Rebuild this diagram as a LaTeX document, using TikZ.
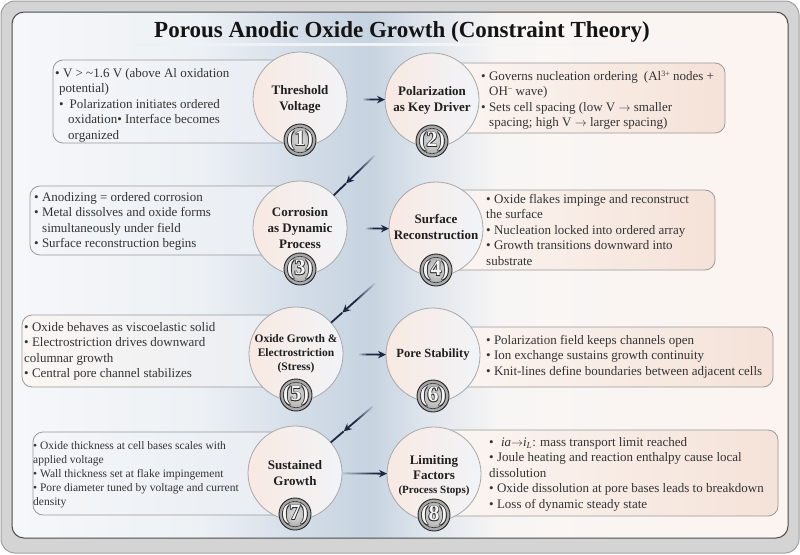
\documentclass[tikz,border=0pt]{standalone}
\usepackage{fontspec}
\setmainfont{Liberation Serif}
\usetikzlibrary{arrows.meta,calc}
\definecolor{navy}{HTML}{1C2743}
\definecolor{bandblue}{HTML}{C2CFDD}
\definecolor{txt}{HTML}{333333}
\definecolor{bgA}{HTML}{F6F7F9}
\definecolor{bgB}{HTML}{EDF1F5}
\definecolor{bgC}{HTML}{D3DDE8}
\definecolor{bgD}{HTML}{C6D3E0}
\definecolor{bgE}{HTML}{DDE4EC}
\definecolor{bgF}{HTML}{F8F6F5}
\definecolor{bgG}{HTML}{FCF4F0}
\definecolor{circL}{HTML}{F8E9E2}
\definecolor{circR}{HTML}{F1F4F8}
\definecolor{circbord}{HTML}{A8A8A8}
\definecolor{panbord}{HTML}{9A9A9A}
\definecolor{plA}{HTML}{F4F6F9}
\definecolor{plB}{HTML}{E8EDF3}
\definecolor{prA}{HTML}{FBF6F3}
\definecolor{prB}{HTML}{F5E2D8}
\definecolor{frameOut}{HTML}{D4D4D4}
\newcommand{\bnum}[1]{%
  \rlap{\kern0.7pt\raisebox{-0.7pt}{\color{gray!25!black}(#1)}}%
  \rlap{\kern-0.6pt\raisebox{0.6pt}{\color{gray!35!black}(#1)}}%
  \rlap{\kern0.7pt\raisebox{0.6pt}{\color{gray!35!black}(#1)}}%
  \rlap{\kern-0.6pt\raisebox{-0.7pt}{\color{gray!35!black}(#1)}}%
  {\color{white!92!gray}(#1)}}
\newcommand{\fadearrow}[4]{%
  \foreach \k in {0,...,9}{%
    \pgfmathsetmacro{\fadeA}{\k/10}%
    \pgfmathsetmacro{\fadeB}{(\k+1)/10}%
    \pgfmathtruncatemacro{\fadePc}{10+\k*9}%
    \draw[arrowbody, draw=navy!\fadePc!bandblue] ($(#1)!\fadeA!(#2)$) -- ($(#1)!\fadeB!(#2)$);
  }%
  \draw[headline] (#2) -- (#3);
  \draw[arrowbody, draw=navy] (#3) -- (#4);
}
\tikzset{
  bigcirc/.style={circle, minimum size=94pt, inner sep=0pt, draw=circbord, line width=0.8pt, left color=circL, right color=circR},
  clabel/.style={align=center, font=\fontsize{13}{16}\selectfont\bfseries, text=black!88, inner sep=0pt},
  panelL/.style={rounded corners=10pt, draw=panbord, line width=0.8pt, left color=plA, right color=plB},
  panelR/.style={rounded corners=10pt, draw=panbord, line width=0.8pt, left color=prA, right color=prB},
  ptext/.style={anchor=north west, align=left, inner sep=0pt, text=txt, font=\fontsize{13}{15.5}\selectfont},
  badge/.style={circle, minimum size=32pt, inner sep=0pt, draw=gray!30!black, line width=0.9pt, inner color=gray!25, outer color=gray!72},
  numtxt/.style={font=\fontsize{22}{22}\selectfont\bfseries, inner sep=0pt},
  arrowbody/.style={line width=1.8pt},
  headline/.style={draw=navy, line width=1.8pt, -{Stealth[length=8pt,width=7.5pt]}}
}
\begin{document}
\begin{tikzpicture}[x=1pt,y=-1pt]
\useasboundingbox (0,0) rectangle (800,554);
% frame
\draw[rounded corners=14pt, draw=gray!75, line width=1pt, fill=frameOut] (1,1) rectangle (799,553);
\begin{scope}
  \clip[rounded corners=12pt] (12,12) rectangle (788,538);
  \shade[left color=bgA, right color=bgB] (11,11) rectangle (201,539);
  \shade[left color=bgB, right color=bgC] (200,11) rectangle (301,539);
  \shade[left color=bgC, right color=bgD] (300,11) rectangle (371,539);
  \shade[left color=bgD, right color=bgE] (370,11) rectangle (421,539);
  \shade[left color=bgE, right color=bgF] (420,11) rectangle (501,539);
  \shade[left color=bgF, right color=bgG] (500,11) rectangle (789,539);
\end{scope}
\draw[rounded corners=12pt, draw=gray!60!black, line width=1pt] (12,12) rectangle (788,538);
% title
\node[anchor=base, font=\fontsize{23}{26}\selectfont\bfseries, text=black!92, inner sep=0pt] (title) at (402,37) {Porous Anodic Oxide Growth (Constraint Theory)};
\shade[left color=bgB, middle color=gray!55, right color=bgF] (135,43.5) rectangle (688,45.5);
% panels
\path[panelL] (53,60) rectangle (300,143);
\path[panelR] (432,63) rectangle (725,133);
\path[panelL] (30,186) rectangle (300,255);
\path[panelR] (436,190) rectangle (715,270);
\path[panelL, left color=prA] (22,315) rectangle (296,387);
\path[panelR] (433,327) rectangle (773,387);
\path[panelL] (33,432) rectangle (295,515);
\path[panelR] (434,430) rectangle (778,516);
% panel texts
\node[ptext] (x1) at (55,66.2) {\strut• V > \textasciitilde1.6 V (above Al oxidation\\
\hspace{4pt}potential)\\
\hspace{4pt}•\hspace{6pt}Polarization initiates ordered\\
\hspace{13pt}oxidation• Interface becomes\\
\hspace{13pt}organized};
\node[ptext] (x2) at (481,69.2) {\strut• Governs nucleation ordering\hspace{3pt} (Al{\fontsize{8}{8}\selectfont\raisebox{4pt}{3+}} nodes +\\
\hspace{8pt}OH{\fontsize{8}{8}\selectfont\raisebox{4pt}{−}} wave)\\
• Sets cell spacing (low V $\rightarrow$ smaller\\
\hspace{8pt}spacing; high V $\rightarrow$ larger spacing)};
\node[ptext] (x3) at (34,190.2) {\strut• Anodizing = ordered corrosion\\
• Metal dissolves and oxide forms\\
\hspace{8pt}simultaneously under field\\
• Surface reconstruction begins};
\node[ptext] (x4) at (486,192.2) {\strut• Oxide flakes impinge and reconstruct\\
the surface\\
• Nucleation locked into ordered array\\
• Growth transitions downward into\\
substrate};
\node[ptext] (x5) at (24,320.2) {\strut• Oxide behaves as viscoelastic solid\\
• Electrostriction drives downward\\
columnar growth\\
• Central pore channel stabilizes};
\node[ptext] (x6) at (486,333.2) {\strut• Polarization field keeps channels open\\
• Ion exchange sustains growth continuity\\
• Knit-lines define boundaries between adjacent cells};
\node[ptext, font=\fontsize{11.5}{14}\selectfont] (x7) at (33,439.2) {\strut• Oxide thickness at cell bases scales with\\
applied voltage\\
• Wall thickness set at flake impingement\\
• Pore diameter tuned by voltage and current\\
density};
\node[ptext] (x8) at (489,435.2) {\strut•\hspace{4pt} \textit{ia}$\rightarrow$\textit{i}\textsubscript{\textit{L}}: mass transport limit reached\\
• Joule heating and reaction enthalpy cause local\\
dissolution\\
• Oxide dissolution at pore bases leads to breakdown\\
• Loss of dynamic steady state};
% circles
\node[bigcirc] (c1) at (300,99) {};
\node[bigcirc] (c2) at (432,100) {};
\node[bigcirc] (c3) at (300,228) {};
\node[bigcirc] (c4) at (436,229) {};
\node[bigcirc] (c5) at (296,354) {};
\node[bigcirc] (c6) at (433,355) {};
\node[bigcirc] (c7) at (295,473) {};
\node[bigcirc] (c8) at (434,474) {};
\node[clabel] (t1) at (c1) {Threshold\\Voltage};
\node[clabel] (t2) at (c2) {Polarization\\as Key Driver};
\node[clabel] (t3) at (c3) {Corrosion\\as Dynamic\\Process};
\node[clabel] (t4) at (436,227) {Surface\\Reconstruction};
\node[clabel, font=\fontsize{11.5}{14}\selectfont\bfseries] (t5) at (c5) {Oxide Growth \&\\Electrostriction\\(Stress)};
\node[clabel, font=\fontsize{12.5}{15}\selectfont\bfseries] (t6) at (c6) {Pore Stability};
\node[clabel] (t7) at (c7) {Sustained\\Growth};
\node[clabel, align=center, font=\fontsize{13}{14.5}\selectfont\bfseries] (t8) at (434,476) {Limiting\\Factors\\{\fontsize{11}{14.5}\selectfont(Process Stops)}};
% badges
\foreach \n in {1,...,8}{
  \node[badge] (b\n) at ($(c\n)+(0,41)$) {};
  \draw[gray!40!black, line width=0.6pt] (b\n) circle (12.8pt);
  \node[numtxt] (n\n) at ($(b\n)+(0,0.5)$) {\bnum{\n}};
}
% horizontal arrows
\coordinate (h1s) at ($(c1)!63pt!(c2)$);
\coordinate (h1m) at ($(c1)!70pt!(c2)$);
\coordinate (h1t) at ($(c2)!47pt!(c1)$);
\fadearrow{h1s}{h1m}{h1t}{h1t}
\coordinate (h2s) at ($(c3)!66pt!(c4)$);
\coordinate (h2m) at ($(c3)!73pt!(c4)$);
\coordinate (h2t) at ($(c4)!47pt!(c3)$);
\fadearrow{h2s}{h2m}{h2t}{h2t}
\coordinate (h3s) at ($(c5)!63pt!(c6)$);
\coordinate (h3m) at ($(c5)!71pt!(c6)$);
\coordinate (h3t) at ($(c6)!47pt!(c5)$);
\fadearrow{h3s}{h3m}{h3t}{h3t}
\coordinate (h4s) at ($(c7)!48pt!(c8)$);
\coordinate (h4m) at ($(c7)!78pt!(c8)$);
\coordinate (h4t) at ($(c8)!47pt!(c7)$);
\fadearrow{h4s}{h4m}{h4t}{h4t}
% diagonal arrows
\coordinate (d1s) at ($(c2)!80pt!(c3)$);
\coordinate (d1t) at ($(c3)!64pt!(c2)$);
\coordinate (d1m) at ($(d1s)!0.55!(d1t)$);
\coordinate (d1e) at ($(c3)!47pt!(c2)$);
\fadearrow{d1s}{d1m}{d1t}{d1e}
\coordinate (d2s) at ($(c4)!82pt!(c5)$);
\coordinate (d2t) at ($(c5)!62pt!(c4)$);
\coordinate (d2m) at ($(d2s)!0.55!(d2t)$);
\coordinate (d2e) at ($(c5)!47pt!(c4)$);
\fadearrow{d2s}{d2m}{d2t}{d2e}
\coordinate (d3s) at ($(c6)!79pt!(c7)$);
\coordinate (d3t) at ($(c7)!64pt!(c6)$);
\coordinate (d3m) at ($(d3s)!0.55!(d3t)$);
\coordinate (d3e) at ($(c7)!47pt!(c6)$);
\fadearrow{d3s}{d3m}{d3t}{d3e}
\end{tikzpicture}
\end{document}
